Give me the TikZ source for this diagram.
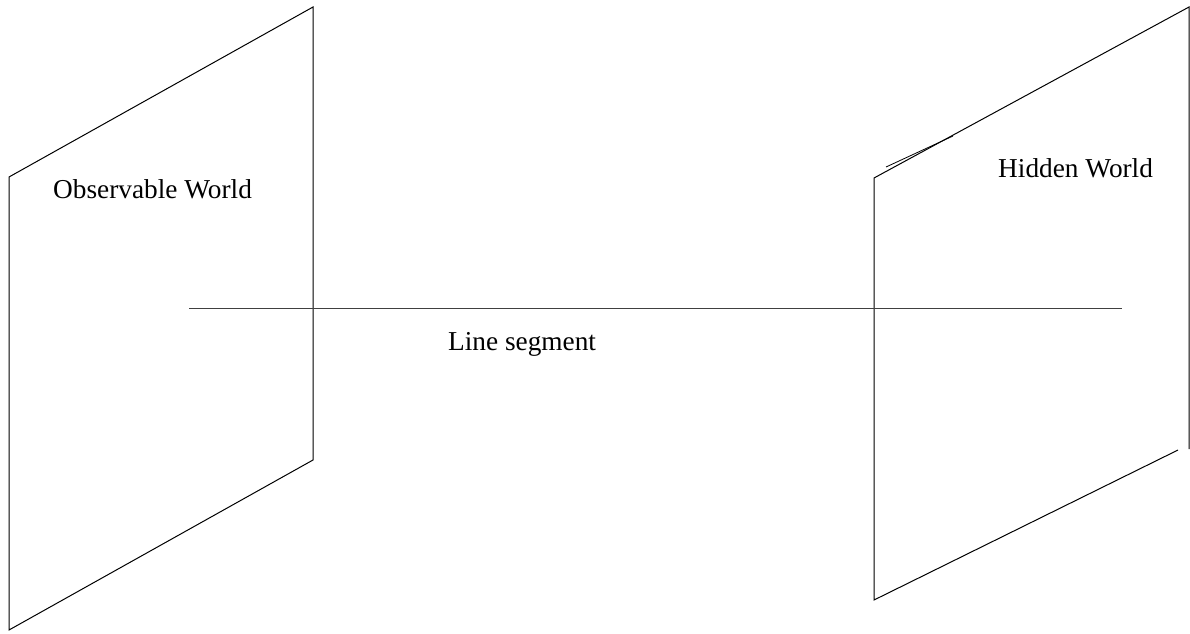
\documentclass[tikz,border=0pt]{standalone}
\usepackage{fontspec}
\setmainfont{Liberation Serif}
\begin{document}
\begin{tikzpicture}[x=1pt,y=-1pt,
  edge/.style={draw=black,line width=1pt,line join=miter},
  lab/.style={anchor=base west,inner sep=0pt,font=\fontsize{27.3}{31}\selectfont}]
\useasboundingbox (0,0) rectangle (1190,633);
% left plane
\coordinate (l1) at (9,177);
\coordinate (l2) at (313,7);
\coordinate (l3) at (313,460);
\coordinate (l4) at (9,630);
\draw[edge] (l1) -- (l2) -- (l3) -- (l4) -- cycle;
% right plane
\coordinate (r1) at (874,178);
\coordinate (r2) at (1189,7);
\coordinate (r3) at (1189,449);
\coordinate (r4) at (1178,450);
\coordinate (r5) at (874,600);
\draw[edge] (r3) -- (r2) -- (r1) -- (r5) -- (r4);
\coordinate (s1) at (886,167);
\coordinate (s2) at (953,136);
\draw[edge,line width=0.8pt] (s1) -- (s2);
% line segment
\coordinate (h1) at (189,308);
\coordinate (h2) at (1122,308);
\draw[edge,draw=black!75] (h1) -- (h2);
% labels
\node[lab] (obs) at (53,198) {Observable World};
\node[lab] (hid) at (998,177) {Hidden World};
\node[lab] (seg) at (448,350) {Line segment};
\end{tikzpicture}
\end{document}
